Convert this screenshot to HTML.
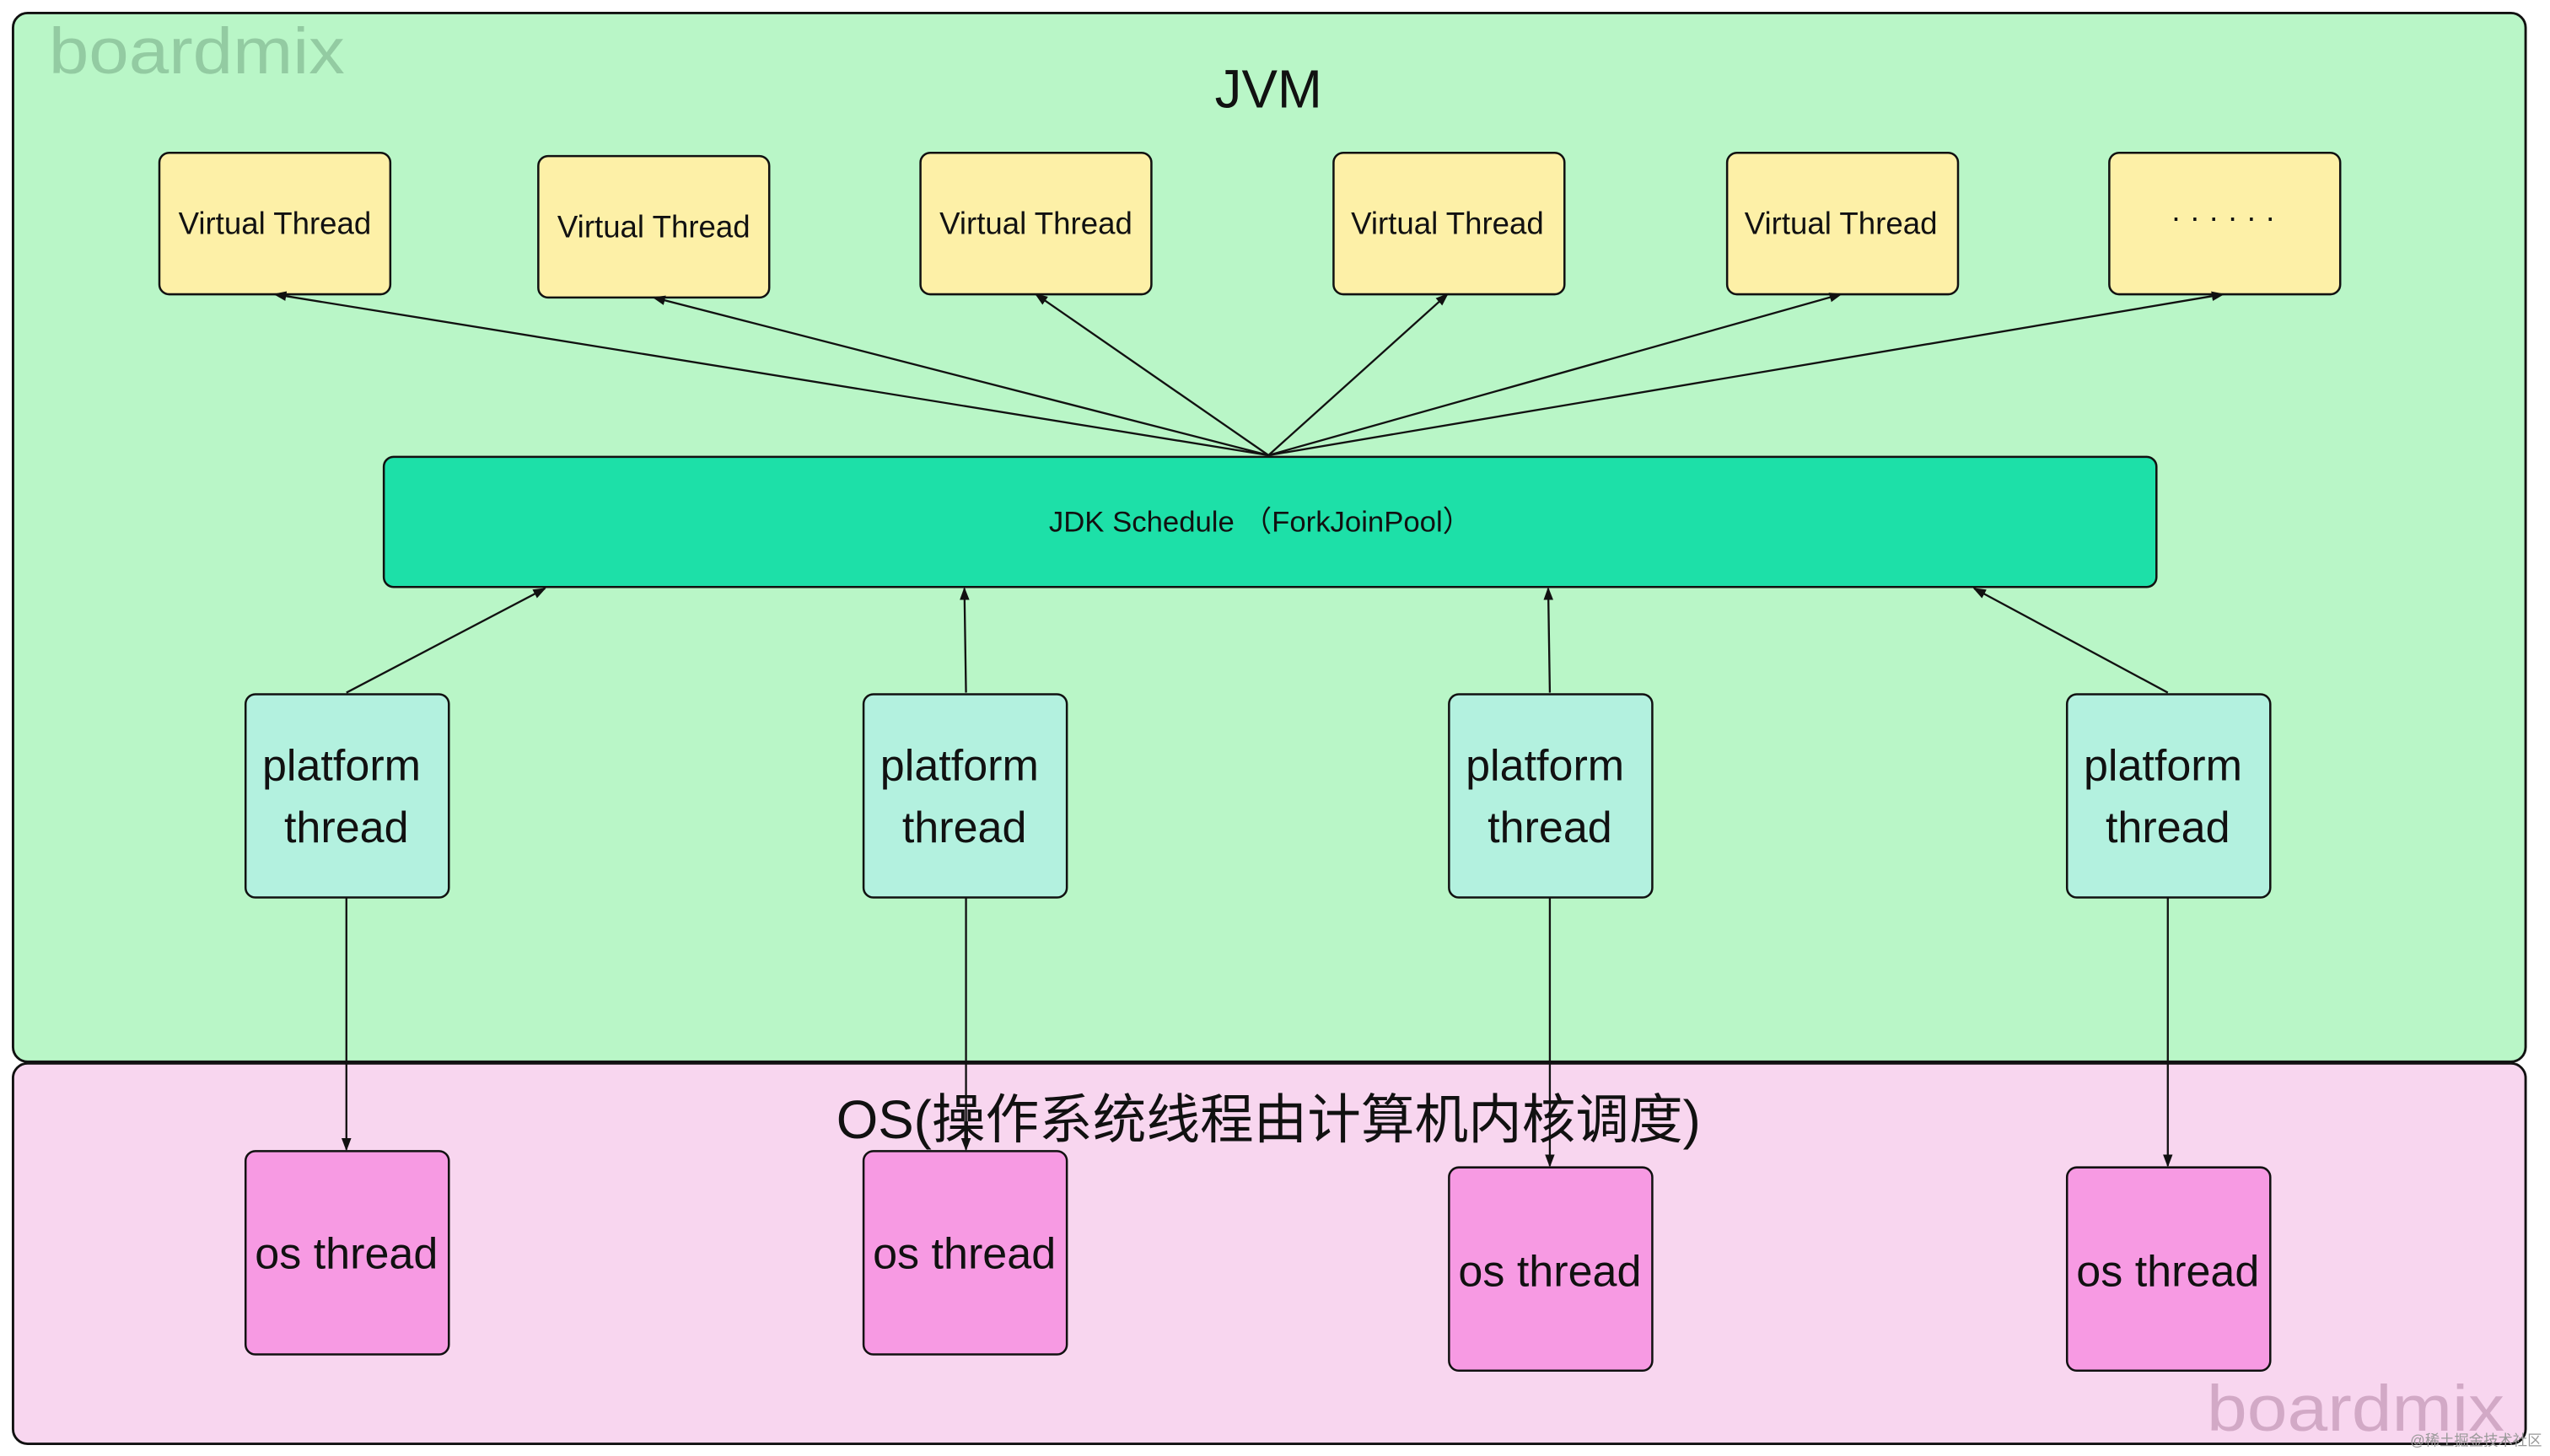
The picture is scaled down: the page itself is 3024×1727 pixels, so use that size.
<!DOCTYPE html>
<html><head><meta charset="utf-8"><style>html,body{margin:0;padding:0;background:#fff}svg{display:block}</style></head>
<body>
<svg width="3024" height="1727" viewBox="0 0 1568 895.5" preserveAspectRatio="none" xmlns="http://www.w3.org/2000/svg" font-family="'Liberation Sans','Noto Sans CJK SC',sans-serif">
<defs><marker id="a" markerWidth="8" markerHeight="8" refX="7" refY="4" orient="auto" markerUnits="userSpaceOnUse"><path d="M0,1 L8,4 L0,7 Z" fill="#111"/></marker></defs>
<rect x="8" y="8" width="1545" height="645" rx="9" fill="#b9f6c7" stroke="#111" stroke-width="1.5"/>
<rect x="8" y="654" width="1545" height="234" rx="9" fill="#f8d6ef" stroke="#111" stroke-width="1.5"/>
<text x="30" y="45" font-size="40" fill="#93cba2" textLength="182" lengthAdjust="spacingAndGlyphs">boardmix</text>
<text x="1357" y="880" font-size="40" fill="#d2a9c6" textLength="183" lengthAdjust="spacingAndGlyphs">boardmix</text>
<text x="1482" y="889" font-size="9" fill="#999">@稀土掘金技术社区</text>
<text x="780" y="66" font-size="33" text-anchor="middle" fill="#111">JVM</text>
<g fill="#fdf0a7" stroke="#111" stroke-width="1.3">
<rect x="98" y="94" width="142" height="87" rx="6"/><rect x="331" y="96" width="142" height="87" rx="6"/>
<rect x="566" y="94" width="142" height="87" rx="6"/><rect x="820" y="94" width="142" height="87" rx="6"/>
<rect x="1062" y="94" width="142" height="87" rx="6"/><rect x="1297" y="94" width="142" height="87" rx="6"/>
</g>
<g font-size="19" text-anchor="middle" fill="#111">
<text x="169" y="144">Virtual Thread</text><text x="402" y="146">Virtual Thread</text>
<text x="637" y="144">Virtual Thread</text><text x="890" y="144">Virtual Thread</text>
<text x="1132" y="144">Virtual Thread</text><text x="1367" y="140">· · · · · ·</text>
</g>
<rect x="236" y="281" width="1090" height="80" rx="6" fill="#1de0a8" stroke="#111" stroke-width="1.3"/>
<text x="775" y="327" font-size="18" text-anchor="middle" fill="#111">JDK Schedule （ForkJoinPool）</text>
<g stroke="#111" stroke-width="1.2" marker-end="url(#a)" fill="none">
<line x1="780" y1="280" x2="169" y2="181"/><line x1="780" y1="280" x2="402" y2="183"/>
<line x1="780" y1="280" x2="637" y2="181"/><line x1="780" y1="280" x2="890" y2="181"/>
<line x1="780" y1="280" x2="1132" y2="181"/><line x1="780" y1="280" x2="1367" y2="181"/>
<line x1="213" y1="426" x2="335" y2="362"/><line x1="594" y1="426" x2="593" y2="362"/>
<line x1="953" y1="426" x2="952" y2="362"/><line x1="1333" y1="426" x2="1214" y2="362"/>
<line x1="213" y1="552" x2="213" y2="707"/><line x1="594" y1="552" x2="594" y2="707"/>
<line x1="953" y1="552" x2="953" y2="717"/><line x1="1333" y1="552" x2="1333" y2="717"/>
</g>
<g fill="#b3f1df" stroke="#111" stroke-width="1.3">
<rect x="151" y="427" width="125" height="125" rx="6"/><rect x="531" y="427" width="125" height="125" rx="6"/>
<rect x="891" y="427" width="125" height="125" rx="6"/><rect x="1271" y="427" width="125" height="125" rx="6"/>
</g>
<g font-size="27" text-anchor="middle" fill="#111">
<text x="210" y="480">platform</text><text x="213" y="518">thread</text>
<text x="590" y="480">platform</text><text x="593" y="518">thread</text>
<text x="950" y="480">platform</text><text x="953" y="518">thread</text>
<text x="1330" y="480">platform</text><text x="1333" y="518">thread</text>
</g>
<text x="780" y="700" font-size="33" text-anchor="middle" fill="#111">OS(操作系统线程由计算机内核调度)</text>
<g fill="#f79ae3" stroke="#111" stroke-width="1.3">
<rect x="151" y="708" width="125" height="125" rx="6"/><rect x="531" y="708" width="125" height="125" rx="6"/>
<rect x="891" y="718" width="125" height="125" rx="6"/><rect x="1271" y="718" width="125" height="125" rx="6"/>
</g>
<g font-size="27" text-anchor="middle" fill="#111">
<text x="213" y="780">os thread</text><text x="593" y="780">os thread</text>
<text x="953" y="791">os thread</text><text x="1333" y="791">os thread</text>
</g>
</svg>
</body></html>
